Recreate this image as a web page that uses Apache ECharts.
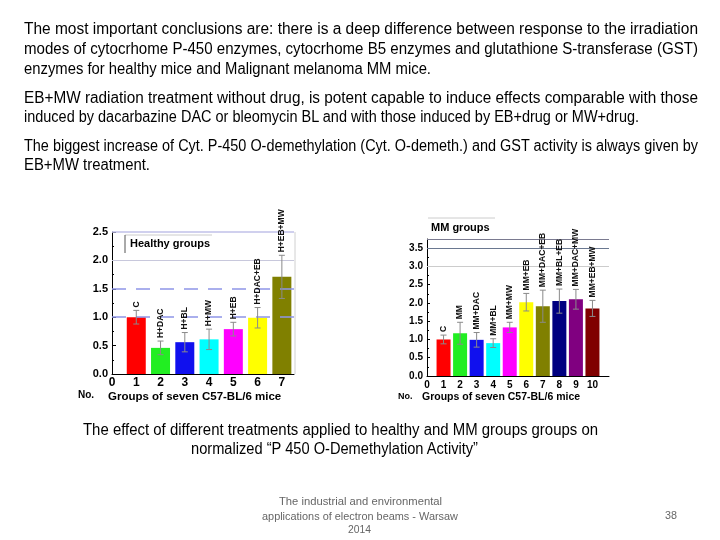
<!DOCTYPE html>
<html><head><meta charset="utf-8">
<script src="https://cdn.jsdelivr.net/npm/echarts@6/dist/echarts.min.js"></script>
<style>
body{margin:0;width:720px;height:540px;background:#fff;position:relative;overflow:hidden;font-family:'Liberation Sans','Noto Sans',sans-serif;color:#000;}
#chart{position:absolute;left:0;top:0;width:720px;height:540px;}
.t{position:absolute;white-space:nowrap;font-size:16px;line-height:18px;height:18px;transform-origin:0 50%;}
.f{position:absolute;white-space:nowrap;font-size:11px;line-height:13px;height:13px;color:#666;transform-origin:0 50%;}
</style>
</head><body>
<div id="chart"></div>
<div id="texts"></div>
<script>
// ---- data ----
const healthyGroups = [1, 2, 3, 4, 5, 6, 7];
const healthyValues = [1.0, 0.46, 0.56, 0.61, 0.79, 0.99, 1.71];
const healthyErrors = [0.12, 0.12, 0.17, 0.18, 0.12, 0.18, 0.38];
const healthyLabels = ['C', 'H+DAC', 'H+BL', 'H+MW', 'H+EB', 'H+DAC+EB', 'H+EB+MW'];
const healthyColors = ['#ff0000', '#22ee22', '#1010ee', '#00ffff', '#ff00ff', '#ffff00', '#808000'];

const mmGroups = [1, 2, 3, 4, 5, 6, 7, 8, 9, 10];
const mmValues = [1.0, 1.17, 0.99, 0.9, 1.33, 2.02, 1.91, 2.05, 2.1, 1.85];
const mmErrors = [0.12, 0.3, 0.2, 0.12, 0.14, 0.24, 0.44, 0.33, 0.27, 0.22];
const mmLabels = ['C', 'MM', 'MM+DAC', 'MM+BL', 'MM+MW', 'MM+EB', 'MM+DAC+EB', 'MM+BL+EB', 'MM+DAC+MW', 'MM+EB+MW'];
const mmColors = ['#ff0000', '#22ee22', '#1010ee', '#00ffff', '#ff00ff', '#ffff00', '#808000', '#000080', '#800080', '#800000'];

// slide text lines
const bodyLines = [
  'The most important conclusions are: there is a deep difference between response to the irradiation',
  'modes of cytocrhome P-450 enzymes, cytocrhome B5 enzymes and glutathione S-transferase (GST)',
  'enzymes for healthy mice and Malignant melanoma MM mice.',
  'EB+MW radiation treatment without drug, is potent capable to induce effects comparable with those',
  'induced by dacarbazine DAC or bleomycin BL and with those induced by EB+drug or MW+drug.',
  'The biggest increase of Cyt. P-450 O-demethylation (Cyt. O-demeth.) and GST activity is always given by',
  'EB+MW treatment.'
];
const captionLines = [
  'The effect of different treatments applied to healthy and MM groups groups on',
  'normalized “P 450 O-Demethylation Activity”'
];
const footerLines = ['The industrial and environmental', 'applications of electron beams - Warsaw', '2014'];
const pageNumber = '38';

// layout of text lines (left, right, centre y)
const bodyBoxes = [[24, 698, 29], [24, 698, 49], [24, 431, 69], [24, 698, 98], [24, 639, 117], [24, 698, 146], [24, 150, 165]];
const captionBoxes = [[83, 598, 430], [191, 478, 449]];
const footerBoxes = [[279, 442, 501], [262, 458, 516], [348, 371, 529]];

const host = document.getElementById('texts');
function place(text, box, cls) {
  const d = document.createElement('div');
  d.className = cls;
  d.textContent = text;
  host.appendChild(d);
  const h = cls === 't' ? 18 : 13;
  d.style.left = box[0] + 'px';
  d.style.top = (box[2] - h / 2) + 'px';
  const w = d.getBoundingClientRect().width;
  d.style.transform = 'scaleX(' + ((box[1] - box[0]) / w) + ')';
}
bodyLines.forEach((t, i) => place(t, bodyBoxes[i], 't'));
captionLines.forEach((t, i) => place(t, captionBoxes[i], 't'));
footerLines.forEach((t, i) => place(t, footerBoxes[i], 'f'));
place(pageNumber, [665, 677, 515], 'f');

function barData(groups, vals, colors) {
  return groups.map((g, i) => ({ value: [g, vals[i]], itemStyle: { color: colors[i] } }));
}
function errData(groups, vals, errs) {
  return groups.map((g, i) => [g, vals[i], errs[i]]);
}
function errItem(params, api) {
  const x = api.value(0), y = api.value(1), e = api.value(2);
  const lab = params.seriesName === 'hErr' ? healthyLabels[params.dataIndex] : mmLabels[params.dataIndex];
  const hi = api.coord([x, y + e]), lo = api.coord([x, y - e]);
  const w = 3;
  const st = { stroke: '#8a8a8a', lineWidth: 1 };
  return { type: 'group', children: [
    { type: 'line', shape: { x1: hi[0], y1: hi[1], x2: lo[0], y2: lo[1] }, style: st },
    { type: 'line', shape: { x1: hi[0] - w, y1: hi[1], x2: hi[0] + w, y2: hi[1] }, style: st },
    { type: 'line', shape: { x1: lo[0] - w, y1: lo[1], x2: lo[0] + w, y2: lo[1] }, style: st },
    { type: 'text', x: hi[0], y: hi[1] - 3, rotation: Math.PI / 2,
      style: { text: lab, fill: '#111', font: 'bold 8.5px Arial', align: 'left', verticalAlign: 'middle' } }
  ]};
}
const yLab = (sz) => ({ fontFamily: 'Arial', fontWeight: 'bold', fontSize: sz, color: '#000', margin: 4,
  formatter: v => v.toFixed(1) });
const chart = echarts.init(document.getElementById('chart'), null, { renderer: 'canvas' });
chart.setOption({
  animation: false,
  grid: [
    { left: 112, top: 232, width: 182, height: 142, show: false },
    { left: 427, top: 239, width: 182, height: 137, show: false }
  ],
  xAxis: [
    { gridIndex: 0, type: 'value', min: 0, max: 7.5, interval: 1,
      axisLine: { lineStyle: { color: '#000' } }, axisTick: { show: false }, splitLine: { show: false },
      axisLabel: { fontFamily: 'Arial', fontWeight: 'bold', fontSize: 12, color: '#000', margin: 3, showMaxLabel: false } },
    { gridIndex: 1, type: 'value', min: 0, max: 11, interval: 1,
      axisLine: { lineStyle: { color: '#000' } }, axisTick: { show: false }, splitLine: { show: false },
      axisLabel: { fontFamily: 'Arial', fontWeight: 'bold', fontSize: 10, color: '#000', margin: 4, showMaxLabel: false } }
  ],
  yAxis: [
    { gridIndex: 0, type: 'value', min: 0, max: 2.5, interval: 0.5,
      axisLine: { show: true, lineStyle: { color: '#000' } },
      axisTick: { show: true, inside: true, length: 4, lineStyle: { color: '#000' } },
      minorTick: { show: true, splitNumber: 2, length: 2, lineStyle: { color: '#000' } },
      splitLine: { show: false }, axisLabel: yLab(11) },
    { gridIndex: 1, type: 'value', min: 0, max: 3.75, interval: 0.5,
      axisLine: { show: true, lineStyle: { color: '#000' } },
      axisTick: { show: true, inside: true, length: 3, lineStyle: { color: '#000' } },
      minorTick: { show: true, splitNumber: 2, length: 2, lineStyle: { color: '#000' } },
      splitLine: { show: false }, axisLabel: Object.assign(yLab(10), { showMaxLabel: false }) }
  ],
  series: [
    { type: 'bar', xAxisIndex: 0, yAxisIndex: 0, barWidth: 19, data: barData(healthyGroups, healthyValues, healthyColors),
      markLine: { silent: true, symbol: 'none', label: { show: false },
        data: [
          { yAxis: 1.0, lineStyle: { color: '#8f95e8', type: [14, 10], width: 1.5 } },
          { yAxis: 1.5, lineStyle: { color: '#8f95e8', type: [14, 10], width: 1.5 } },
          { yAxis: 2.0, lineStyle: { color: '#c8c8dc', type: 'solid', width: 1 } },
          { yAxis: 2.5, lineStyle: { color: '#c0c0e8', type: 'solid', width: 1.5 } }
        ] } },
    { type: 'custom', name: 'hErr', xAxisIndex: 0, yAxisIndex: 0, renderItem: errItem, z: 5,
      data: errData(healthyGroups, healthyValues, healthyErrors) },
    { type: 'bar', xAxisIndex: 1, yAxisIndex: 1, barWidth: 14, data: barData(mmGroups, mmValues, mmColors),
      markLine: { silent: true, symbol: 'none', label: { show: false },
        data: [
          { yAxis: 3.0, lineStyle: { color: '#cccccc', type: 'solid', width: 1 } },
          { yAxis: 3.5, lineStyle: { color: '#6a7890', type: 'solid', width: 1 } },
          { yAxis: 3.75, lineStyle: { color: '#7a7a90', type: 'solid', width: 1 } }
        ] } },
    { type: 'custom', name: 'mErr', xAxisIndex: 1, yAxisIndex: 1, renderItem: errItem, z: 5,
      data: errData(mmGroups, mmValues, mmErrors) }
  ],
  graphic: [
    { type: 'line', shape: { x1: 295, y1: 232, x2: 295, y2: 374 }, style: { stroke: '#d0d0d0', lineWidth: 1 } },
    { type: 'line', shape: { x1: 125, y1: 235, x2: 212, y2: 235 }, style: { stroke: '#cccccc', lineWidth: 1 } },
    { type: 'line', shape: { x1: 125, y1: 235, x2: 125, y2: 253 }, style: { stroke: '#555', lineWidth: 1 } },
    { type: 'text', x: 130, y: 244, style: { text: 'Healthy groups', font: 'bold 11px Arial', fill: '#000', verticalAlign: 'middle' } },
    { type: 'line', shape: { x1: 428, y1: 218, x2: 495, y2: 218 }, style: { stroke: '#cccccc', lineWidth: 1 } },
    { type: 'text', x: 431, y: 228, style: { text: 'MM groups', font: 'bold 11px Arial', fill: '#000', verticalAlign: 'middle' } },
    { type: 'text', x: 78, y: 395, style: { text: 'No.', font: 'bold 10px Arial', fill: '#000', verticalAlign: 'middle' } },
    { type: 'text', x: 108, y: 397, style: { text: 'Groups of seven C57-BL/6 mice', font: 'bold 11.5px Arial', fill: '#000', verticalAlign: 'middle' } },
    { type: 'text', x: 398, y: 397, style: { text: 'No.', font: 'bold 9px Arial', fill: '#000', verticalAlign: 'middle' } },
    { type: 'text', x: 422, y: 397, style: { text: 'Groups of seven C57-BL/6 mice', font: 'bold 10.5px Arial', fill: '#000', verticalAlign: 'middle' } }
  ]
});
</script>
</body></html>
